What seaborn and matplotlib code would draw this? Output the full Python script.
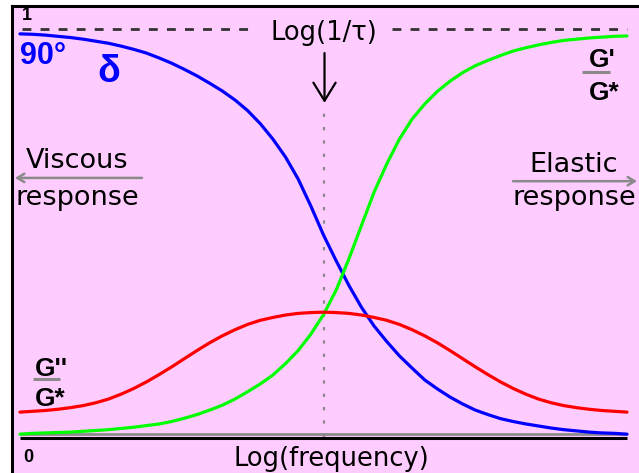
import matplotlib
matplotlib.use("Agg")
import matplotlib.pyplot as plt
import pandas as pd
import seaborn as sns

# Normalised viscoelastic response versus log(frequency); log(1/tau) sits at 0
log_freq = [-3.0, -2.875, -2.75, -2.625, -2.5, -2.375, -2.25, -2.125, -2.0, -1.875, -1.75, -1.625,
            -1.5, -1.375, -1.25, -1.125, -1.0, -0.875, -0.75, -0.625, -0.5, -0.375, -0.25, -0.125,
            0.0, 0.125, 0.25, 0.375, 0.5, 0.625, 0.75, 0.875, 1.0, 1.125, 1.25, 1.375,
            1.5, 1.625, 1.75, 1.875, 2.0, 2.125, 2.25, 2.375, 2.5, 2.625, 2.75, 2.875, 3.0]
phase_delta = [0.988, 0.987, 0.985, 0.982, 0.979, 0.975, 0.970, 0.965, 0.958, 0.950, 0.941, 0.929,
               0.916, 0.901, 0.885, 0.867, 0.848, 0.826, 0.800, 0.768, 0.730, 0.686, 0.632, 0.566,
               0.495, 0.432, 0.372, 0.318, 0.272, 0.234, 0.199, 0.169, 0.140, 0.118, 0.098, 0.081,
               0.066, 0.055, 0.045, 0.038, 0.032, 0.027, 0.022, 0.018, 0.015, 0.012, 0.010, 0.009, 0.007]
storage_ratio = [0.007, 0.009, 0.010, 0.011, 0.012, 0.014, 0.016, 0.018, 0.021, 0.024, 0.028, 0.032,
                 0.038, 0.046, 0.055, 0.066, 0.078, 0.093, 0.111, 0.130, 0.152, 0.180, 0.212, 0.252,
                 0.300, 0.360, 0.436, 0.518, 0.600, 0.669, 0.730, 0.779, 0.816, 0.847, 0.872, 0.893,
                 0.910, 0.923, 0.935, 0.946, 0.954, 0.961, 0.967, 0.972, 0.975, 0.978, 0.980, 0.982, 0.983]
loss_ratio = [0.061, 0.063, 0.065, 0.068, 0.072, 0.077, 0.084, 0.093, 0.105, 0.119, 0.135, 0.153,
              0.172, 0.192, 0.212, 0.231, 0.248, 0.263, 0.276, 0.286, 0.293, 0.299, 0.303, 0.305,
              0.306, 0.305, 0.303, 0.299, 0.293, 0.286, 0.276, 0.263, 0.248, 0.231, 0.212, 0.192,
              0.172, 0.153, 0.135, 0.119, 0.105, 0.093, 0.084, 0.077, 0.072, 0.068, 0.065, 0.063, 0.061]

series_names = ["delta", "G'/G*", "G''/G*"]
series_colors = ["#0000FF", "#00FF00", "#FF0000"]

curves = pd.concat([
    pd.DataFrame({"x": log_freq, "y": phase_delta, "series": series_names[0]}),
    pd.DataFrame({"x": log_freq, "y": storage_ratio, "series": series_names[1]}),
    pd.DataFrame({"x": log_freq, "y": loss_ratio, "series": series_names[2]}),
], ignore_index=True)

sns.set_style("white")
plt.rcParams["font.family"] = ["DejaVu Sans"]
plt.rcParams["text.color"] = "black"

PINK = "#FFCCFF"
GREY = "#8A8A8A"
SYMBOL_FONT = ["Liberation Sans", "DejaVu Sans"]

fig = plt.figure(figsize=(6.39, 4.73), dpi=100, facecolor="white")
ax = fig.add_axes([0.01956, 0.0, 0.98044, 0.98626])
ax.set_facecolor(PINK)
ax.set_xlim(-3.074, 3.1185)
ax.set_ylim(-0.0882, 1.0551)
ax.set_xticks([])
ax.set_yticks([])
for side in ("bottom", "right"):
    ax.spines[side].set_visible(False)
for side in ("top", "left"):
    ax.spines[side].set_color("black")
    ax.spines[side].set_linewidth(2.2)

# frequency axis: grey rule over a black one
ax.plot([-3.0, 3.0], [0.0065, 0.0065], color=GREY, lw=2.0, solid_capstyle="butt", zorder=1)
ax.plot([-3.0, 3.0], [-0.0015, -0.0015], color="black", lw=2.2, solid_capstyle="butt", zorder=1)

# upper limit line, broken around the label
dash = (0, (3.2, 3.3))
ax.plot([-2.98, -0.70], [1.0, 1.0], color="#333333", lw=2.0, linestyle=dash, zorder=1)
ax.plot([0.68, 3.0], [1.0, 1.0], color="#333333", lw=2.0, linestyle=dash, zorder=1)

# relaxation position
ax.plot([0.005, 0.005], [0.0, 0.794], color=GREY, lw=1.6, linestyle=(0, (1.5, 4.5)), zorder=1)
ax.annotate("", xy=(0.01, 0.819), xytext=(0.01, 0.941),
            arrowprops=dict(arrowstyle="->,head_length=0.65,head_width=0.4", color="black",
                            lw=1.6, mutation_scale=20, shrinkA=0, shrinkB=0))
ax.text(0.005, 0.990, "Log(1/\u03c4)", ha="center", va="center", fontsize=18.5)

sns.lineplot(data=curves, x="x", y="y", hue="series", hue_order=series_names,
             palette=series_colors, linewidth=2.3, legend=False, ax=ax, zorder=3)
ax.set_xlabel("")
ax.set_ylabel("")

# axis end values
ax.text(-2.93, 1.034, "1", ha="center", va="center", fontsize=13, fontweight="bold",
        family=SYMBOL_FONT)
ax.text(-2.92, -0.051, "0", ha="center", va="center", fontsize=13, fontweight="bold",
        family=SYMBOL_FONT)
ax.text(0.075, -0.071, "Log(frequency)", ha="center", va="baseline", fontsize=18.5)

# phase angle labels
ax.text(-3.0, 0.915, "90\u00b0", ha="left", va="baseline", fontsize=22, fontweight="bold",
        color="#0000FF", family=SYMBOL_FONT)
ax.text(-2.125, 0.870, "\u03b4", ha="center", va="baseline", fontsize=27, fontweight="bold",
        color="#0000FF", family=SYMBOL_FONT)

# viscous / elastic limits
ax.text(-2.436, 0.659, "Viscous", ha="center", va="baseline", fontsize=19.5)
ax.text(-2.436, 0.569, "response", ha="center", va="baseline", fontsize=19.5)
ax.annotate("", xy=(-3.05, 0.635), xytext=(-1.794, 0.635),
            arrowprops=dict(arrowstyle="->,head_length=0.5,head_width=0.3", color=GREY,
                            lw=1.8, mutation_scale=10, shrinkA=0, shrinkB=0))
ax.text(2.476, 0.650, "Elastic", ha="center", va="baseline", fontsize=19.5)
ax.text(2.476, 0.569, "response", ha="center", va="baseline", fontsize=19.5)
ax.annotate("", xy=(3.099, 0.627), xytext=(1.873, 0.627),
            arrowprops=dict(arrowstyle="->,head_length=0.5,head_width=0.3", color=GREY,
                            lw=1.8, mutation_scale=10, shrinkA=0, shrinkB=0))

# ratio labels
ax.text(2.62, 0.907, "G'", ha="left", va="baseline", fontsize=19, fontweight="bold",
        family=SYMBOL_FONT)
ax.plot([2.555, 2.832], [0.895, 0.895], color=GREY, lw=2.2, solid_capstyle="butt")
ax.text(2.62, 0.826, "G*", ha="left", va="baseline", fontsize=19, fontweight="bold",
        family=SYMBOL_FONT)

ax.text(-2.85, 0.1495, "G''", ha="left", va="baseline", fontsize=19, fontweight="bold",
        family=SYMBOL_FONT)
ax.plot([-2.871, -2.604], [0.1434, 0.1434], color=GREY, lw=2.2, solid_capstyle="butt")
ax.text(-2.85, 0.076, "G*", ha="left", va="baseline", fontsize=19, fontweight="bold",
        family=SYMBOL_FONT)

fig.savefig("out.png", dpi=100, facecolor="white")
